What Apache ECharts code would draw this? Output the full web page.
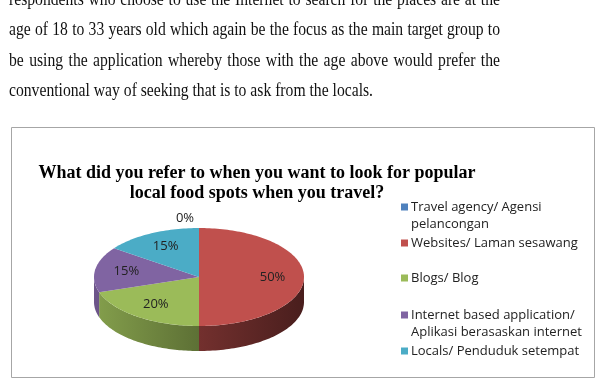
<!DOCTYPE html>
<html><head><meta charset="utf-8">
<script src="https://cdn.jsdelivr.net/npm/echarts@6/dist/echarts.min.js"></script>
<style>html,body{margin:0;padding:0;background:#fff}#c{width:599px;height:383px}</style>
</head><body><div id="c"></div>
<script>
const paragraphLines = [
  'respondents who choose to use the Internet to search for the places are at the',
  'age of 18 to 33 years old which again be the focus as the main target group to',
  'be using the application whereby those with the age above would prefer the',
  'conventional way of seeking that is to ask from the locals.'
];
const titleLines = ['What did you refer to when you want to look for popular', 'local food spots when you travel?'];
const categories = ['Travel agency/ Agensi pelancongan', 'Websites/ Laman sesawang', 'Blogs/ Blog', 'Internet based application/ Aplikasi berasaskan internet', 'Locals/ Penduduk setempat'];
const legendLines = [['Travel agency/ Agensi', 'pelancongan'], ['Websites/ Laman sesawang'], ['Blogs/ Blog'], ['Internet based application/', 'Aplikasi berasaskan internet'], ['Locals/ Penduduk setempat']];
const values = [0, 50, 20, 15, 15];

const colors = ['#4F81BD', '#C0504D', '#9BBB59', '#8064A2', '#4BACC6'];

function shade(hex, f) {
  const n = parseInt(hex.slice(1), 16);
  const r = Math.round(((n >> 16) & 255) * f), g = Math.round(((n >> 8) & 255) * f), b = Math.round((n & 255) * f);
  return 'rgb(' + r + ',' + g + ',' + b + ')';
}

const chart = echarts.init(document.getElementById('c'), null, {renderer: 'canvas'});
const graphics = [];

// paragraph (justified, horizontally condensed like the scanned page)
const pFont = '18px "Liberation Serif"';
const pScale = 0.87;
const ctx = document.createElement('canvas').getContext('2d');
ctx.font = pFont;
const pLeft = 9, pRight = 500, pBase = [6, 36.5, 67, 97.5];
paragraphLines.forEach((line, li) => {
  const words = line.split(' ');
  const justify = li < paragraphLines.length - 1;
  const widths = words.map(w => ctx.measureText(w).width * pScale);
  const space = ctx.measureText(' ').width * pScale;
  const tot = widths.reduce((a, b) => a + b, 0);
  const gap = justify ? (pRight - pLeft - tot) / (words.length - 1) : space;
  let x = pLeft;
  words.forEach((w, wi) => {
    graphics.push({type: 'text', x: x, y: pBase[li] - 6, scaleX: pScale, style: {x: 0, y: 0, text: w, font: pFont, fill: '#111', verticalAlign: 'middle'}});
    x += widths[wi] + gap;
  });
});

// chart border
graphics.push({type: 'rect', shape: {x: 11.5, y: 127.5, width: 583, height: 250}, style: {fill: '#fff', stroke: '#a6a6a6', lineWidth: 1}, z: -1});

// title
titleLines.forEach((t, i) => {
  graphics.push({type: 'text', x: 257, y: 173 + i * 20, style: {text: t, font: 'bold 18px "Liberation Serif", "DejaVu Serif", serif', fill: '#000', align: 'center', verticalAlign: 'middle'}});
});

// legend
const legY = [207, 243, 278, 315, 351];
legendLines.forEach((lines, i) => {
  graphics.push({type: 'rect', shape: {x: 401, y: legY[i] - 3.5, width: 7, height: 7}, style: {fill: colors[i]}});
  lines.forEach((t, k) => {
    graphics.push({type: 'text', x: 411, y: legY[i] + k * 17, style: {text: t, font: '13px "Open Sans"', fill: '#222', verticalAlign: 'middle'}});
  });
});

const cx = 199, cy = 277, rx = 105, ry = 49, depth = 25;
const total = values.reduce((a, b) => a + b, 0);

function renderItem(params, api) {
  const i = params.dataIndex;
  const v = api.value(0);
  let start = 0;
  for (let j = 0; j < i; j++) start += values[j];
  const a0 = start / total * Math.PI * 2, a1 = (start + v) / total * Math.PI * 2;
  const pt = (a, dy) => [cx + rx * Math.sin(a), cy - ry * Math.cos(a) + (dy || 0)];
  const children = [];
  if (a1 > a0) {
    const s0 = Math.max(a0, Math.PI / 2), s1 = Math.min(a1, Math.PI * 1.5);
    if (s1 > s0) {
      const pts = [];
      const n = 60;
      for (let k = 0; k <= n; k++) pts.push(pt(s0 + (s1 - s0) * k / n));
      for (let k = n; k >= 0; k--) pts.push(pt(s0 + (s1 - s0) * k / n, depth));
      children.push({type: 'polygon', shape: {points: pts}, style: {fill: {type: 'linear', x: cx - rx, y: 0, x2: cx + rx, y2: 0, global: true,
        colorStops: [{offset: 0, color: shade(colors[i], 0.85)}, {offset: 0.5, color: shade(colors[i], 0.6)}, {offset: 1, color: shade(colors[i], 0.38)}]}}});
    }
    const top = [[cx, cy]];
    const n = Math.max(8, Math.ceil((a1 - a0) * 40));
    for (let k = 0; k <= n; k++) top.push(pt(a0 + (a1 - a0) * k / n));
    children.push({type: 'polygon', shape: {points: top}, style: {fill: colors[i]}});
  }
  const mid = (a0 + a1) / 2;
  let lx, ly;
  if (v === 0) { lx = cx - 14; ly = cy - ry - 10; }
  else { lx = cx + rx * 0.7 * Math.sin(mid); ly = cy - ry * 0.7 * Math.cos(mid); }
  children.push({type: 'text', x: lx, y: ly, style: {text: Math.round(v / total * 100) + '%', font: '13px "Open Sans"', fill: '#222', align: 'center', verticalAlign: 'middle'}});
  return {type: 'group', children: children};
}

chart.setOption({
  animation: false,
  backgroundColor: '#fff',
  graphic: graphics,
  series: [{
    type: 'custom',
    coordinateSystem: 'none',
    renderItem: renderItem,
    data: values.map((v, i) => ({name: categories[i], value: [v]}))
  }]
});
</script></body></html>
